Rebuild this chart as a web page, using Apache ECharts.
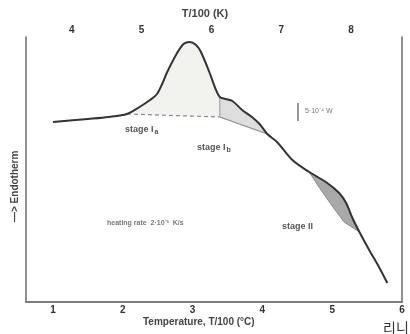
<!DOCTYPE html>
<html>
<head>
<meta charset="utf-8">
<script src="https://cdn.jsdelivr.net/npm/echarts@6/dist/echarts.min.js"></script>
<style>
  html, body { margin: 0; padding: 0; background: #fff; }
  #chart { width: 410px; height: 334px; }
</style>
</head>
<body>
<div id="chart"></div>
<script>
// DSC trace, temperature in T/100 (°C), heat flow in arbitrary units (endotherm up)
const tempC = [1.00, 1.50, 1.80, 2.06, 2.24, 2.39, 2.49, 2.57, 2.63, 2.77, 2.87, 2.96, 3.05, 3.12, 3.24, 3.33, 3.39,
  3.47, 3.57, 3.71, 3.85, 3.96, 4.07, 4.21, 4.43, 4.67, 4.91, 5.10, 5.20, 5.29, 5.39, 5.53, 5.67, 5.79]
const endo = [180, 183, 185, 188, 195, 202, 208, 219, 229, 248, 258, 260, 257, 250, 230, 213, 205,
  203, 201, 192, 185, 178, 168, 160, 142, 130, 120, 109, 99, 84, 70, 52, 35, 19]

// baseline under stage Ia / Ib
const baseX = [2.06, 3.39, 4.07]
const baseY = [188, 185, 168]

// extrapolated lower edge of stage II
const stage2X = [4.67, 4.81, 4.99, 5.17, 5.39]
const stage2Y = [130, 115, 97, 80, 70]

const bottomTicks = [1, 2, 3, 4, 5, 6]
const topTicks = [4, 5, 6, 7, 8]
const kelvinOffset = 2.73

const xMin = 0.614
const xMax = 6
const yMin = 0
const yMax = 265

const pts = (xs, ys, a, b) => xs.map((x, i) => [x, ys[i]]).filter(p => p[0] >= a - 1e-9 && p[0] <= b + 1e-9)

const stageIa = [...pts(tempC, endo, 2.06, 3.39), ...pts(baseX, baseY, 2.06, 3.39).reverse()]
const stageIb = [...pts(tempC, endo, 3.39, 4.07), ...pts(baseX, baseY, 3.39, 4.07).reverse()]
const stageII = [...pts(tempC, endo, 4.67, 5.39), ...pts(stage2X, stage2Y, 4.67, 5.39).reverse()]

const fillSeries = (poly, color) => ({
  type: 'custom',
  silent: true,
  z: 1,
  renderItem: (params, api) => ({
    type: 'polygon',
    shape: { points: poly.map(p => api.coord(p)) },
    style: { fill: color, stroke: null }
  }),
  data: [poly[0]]
})

const axisLine = { show: true, lineStyle: { color: '#747474', width: 1.6 } }
const font = 'Liberation Sans, Arial, sans-serif'

const chart = echarts.init(document.getElementById('chart'))
chart.setOption({
  animation: false,
  backgroundColor: '#fff',
  grid: { left: 26, right: 8, top: 37, bottom: 32 },
  xAxis: [
    {
      type: 'value', position: 'bottom', min: xMin, max: xMax,
      axisLine,
      axisTick: { show: false },
      axisLabel: { customValues: bottomTicks, fontSize: 10, color: '#333', margin: 3, fontFamily: font, fontWeight: 'bold' },
      splitLine: { show: false }
    },
    {
      type: 'value', position: 'top', min: xMin + kelvinOffset, max: xMax + kelvinOffset,
      axisLine,
      axisTick: { show: false },
      axisLabel: { customValues: topTicks, fontSize: 10, color: '#333', margin: 2, fontFamily: font, fontWeight: 'bold' },
      splitLine: { show: false }
    }
  ],
  yAxis: [
    { type: 'value', min: yMin, max: yMax, axisLine, axisTick: { show: false }, axisLabel: { show: false }, splitLine: { show: false } },
    { type: 'value', position: 'right', min: yMin, max: yMax, axisLine, axisTick: { show: false }, axisLabel: { show: false }, splitLine: { show: false } }
  ],
  series: [
    fillSeries(stageIa, '#f2f2ee'),
    fillSeries(stageIb, '#dedede'),
    fillSeries(stageII, '#a9a9a9'),
    {
      type: 'line', silent: true, z: 3, showSymbol: false,
      data: pts(baseX, baseY, 2.06, 3.39),
      lineStyle: { color: '#8a8a8a', width: 1.2, type: [4, 3] }
    },
    {
      type: 'line', silent: true, z: 3, showSymbol: false,
      data: pts(baseX, baseY, 3.39, 4.07),
      lineStyle: { color: '#8a8a8a', width: 1.2 }
    },
    {
      type: 'line', silent: true, z: 3, showSymbol: false,
      data: [[baseX[1], baseY[1]], [tempC[16], endo[16]]],
      lineStyle: { color: '#9a9a9a', width: 1 }
    },
    {
      type: 'line', silent: true, z: 3, showSymbol: false,
      data: stage2X.map((x, i) => [x, stage2Y[i]]),
      lineStyle: { color: '#8a8a8a', width: 1 }
    },
    {
      type: 'line', silent: true, z: 4, showSymbol: false, smooth: 0.3,
      data: tempC.map((x, i) => [x, endo[i]]),
      lineStyle: { color: '#333', width: 2 }
    }
  ],
  graphic: [
    { type: 'text', left: 'center', top: 8, style: { text: 'T/100 (K)', fontSize: 11, fontWeight: 'bold', fill: '#444', fontFamily: font } },
    { type: 'text', x: 143, y: 317, style: { text: 'Temperature, T/100 (°C)', fontSize: 10, fontWeight: 'bold', fill: '#444', fontFamily: font } },
    { type: 'text', x: 10, y: 222, rotation: Math.PI / 2, style: { text: '—> Endotherm', fontSize: 10, fontWeight: 'bold', fill: '#444', fontFamily: font } },
    {
      type: 'text', x: 125, y: 124, z: 10,
      style: { text: '{m|stage I}{s|a}', rich: { m: { fontSize: 9, fontWeight: 'bold', fill: '#555', fontFamily: font }, s: { fontSize: 7, fontWeight: 'bold', fill: '#555', fontFamily: font, padding: [5, 0, 0, 1] } } }
    },
    {
      type: 'text', x: 197, y: 142, z: 10,
      style: { text: '{m|stage I}{s|b}', rich: { m: { fontSize: 9, fontWeight: 'bold', fill: '#555', fontFamily: font }, s: { fontSize: 7, fontWeight: 'bold', fill: '#555', fontFamily: font, padding: [5, 0, 0, 1] } } }
    },
    { type: 'text', x: 282, y: 222, style: { text: 'stage II', fontSize: 9, fontWeight: 'bold', fill: '#555', fontFamily: font } },
    { type: 'line', shape: { x1: 298, y1: 103, x2: 298, y2: 121 }, style: { stroke: '#777', lineWidth: 1.5 } },
    { type: 'text', x: 305, y: 108, style: { text: '5·10⁻⁴ W', fontSize: 7, fill: '#777', fontFamily: font } },
    { type: 'text', x: 107, y: 220, style: { text: 'heating rate  2·10⁻³  K/s', fontSize: 7, fontWeight: 'bold', fill: '#777', fontFamily: font } },
    { type: 'text', x: 383, y: 321, style: { text: '리니', fontSize: 14, fill: '#333', fontFamily: 'Noto Sans CJK KR' } }
  ]
})
</script>
</body>
</html>
